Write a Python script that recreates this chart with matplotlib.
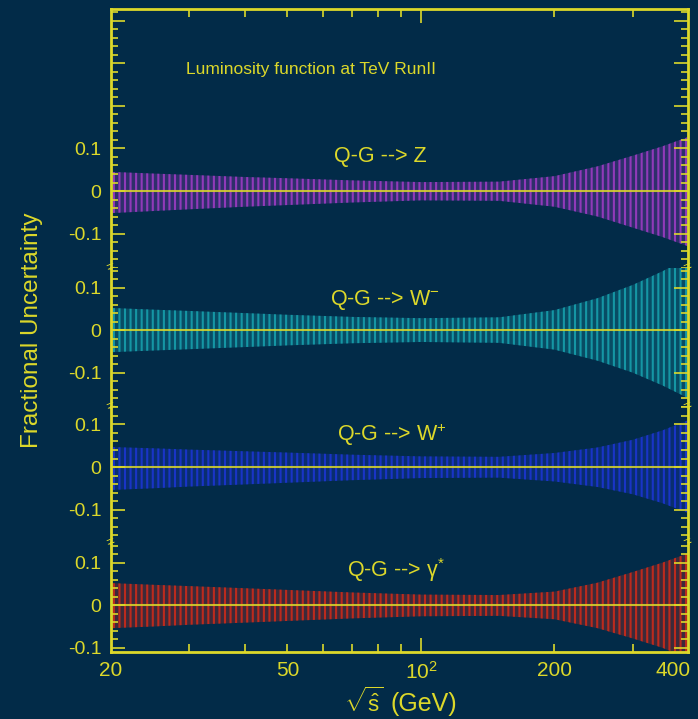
import numpy as np
import matplotlib
matplotlib.use("Agg")
import matplotlib.pyplot as plt
from matplotlib.ticker import FixedLocator, MultipleLocator, NullFormatter, FixedFormatter

# ---- data -------------------------------------------------------------
sqrt_s = [20, 25, 30, 40, 50, 70, 100, 150, 200, 250, 300, 350, 400]

z_up = [0.045, 0.041, 0.038, 0.033, 0.030, 0.025, 0.021, 0.022, 0.035, 0.058, 0.083, 0.105, 0.127]
z_lo = [-0.052, -0.047, -0.043, -0.037, -0.033, -0.027, -0.022, -0.023, -0.037, -0.060, -0.086, -0.108, -0.130]

wm_up = [0.052, 0.048, 0.045, 0.040, 0.036, 0.031, 0.028, 0.030, 0.047, 0.075, 0.106, 0.138, 0.170]
wm_lo = [-0.052, -0.048, -0.045, -0.040, -0.036, -0.031, -0.028, -0.030, -0.046, -0.072, -0.100, -0.130, -0.160]

wp_up = [0.047, 0.044, 0.041, 0.037, 0.034, 0.029, 0.025, 0.024, 0.033, 0.046, 0.064, 0.086, 0.110]
wp_lo = [-0.054, -0.050, -0.046, -0.041, -0.037, -0.031, -0.026, -0.025, -0.034, -0.047, -0.064, -0.085, -0.108]

ga_up = [0.052, 0.048, 0.045, 0.040, 0.036, 0.030, 0.025, 0.024, 0.032, 0.053, 0.078, 0.100, 0.122]
ga_lo = [-0.054, -0.050, -0.046, -0.041, -0.037, -0.031, -0.026, -0.025, -0.033, -0.054, -0.078, -0.100, -0.125]

labels = ["Q-G --> Z", "Q-G --> W$^{-}$", "Q-G --> W$^{+}$", "Q-G --> $\\gamma^{*}$"]
title = "Luminosity function at TeV RunII"
xtick_vals = [20, 50, 100, 200, 400]
xtick_labels = ["20", "50", "10$^{2}$", "200", "400"]
ytick_vals = [-0.1, 0, 0.1]
ytick_labels = ["-0.1", "0", "0.1"]

# ---- style ------------------------------------------------------------
BG = "#022b48"
YEL = "#dcd82a"
colors = ["#a23cc8", "#18a4b0", "#1c36d6", "#d42a18"]
plt.rcParams['font.family'] = ['Liberation Sans', 'DejaVu Sans']
plt.rcParams['mathtext.fontset'] = 'custom'
plt.rcParams['mathtext.rm'] = 'Liberation Sans'
plt.rcParams['mathtext.it'] = 'Liberation Sans:italic'
plt.rcParams['mathtext.default'] = 'regular'
plt.rcParams['hatch.linewidth'] = 1.5

ylims = [(-0.181, 0.428), (-0.181, 0.146), (-0.179, 0.141), (-0.11, 0.146)]
heights = [b - a for a, b in ylims]

fig = plt.figure(figsize=(6.98, 7.19), dpi=100, facecolor=BG)
gs = fig.add_gridspec(4, 1, height_ratios=heights, hspace=0,
                      left=111/698, right=688/698, bottom=1-652/719, top=1-9/719)
axes = [fig.add_subplot(gs[i]) for i in range(4)]

bands = [(z_lo, z_up), (wm_lo, wm_up), (wp_lo, wp_up), (ga_lo, ga_up)]
label_y = [0.08, 0.07, 0.075, 0.082]
label_x = [81, 83, 86, 88]

for i, ax in enumerate(axes):
    ax.set_facecolor(BG)
    ax.set_xscale('log')
    ax.set_xlim(20, 400)
    ax.set_ylim(*ylims[i])
    lo, up = bands[i]
    ax.fill_between(sqrt_s, lo, up, facecolor=colors[i], alpha=0.28, linewidth=0)
    ax.fill_between(sqrt_s, lo, up, facecolor='none', edgecolor=colors[i],
                    hatch='|||', linewidth=0, alpha=0.85)
    ax.axhline(0, color=YEL, lw=1.5, zorder=5, alpha=0.85)
    ax.text(label_x[i], label_y[i], labels[i], color=YEL, fontsize=15.5,
            ha='center', va='center')
    for s in ax.spines.values():
        s.set_color(YEL)
        s.set_linewidth(2)
    if i > 0:
        ax.spines['top'].set_visible(False)
    if i < 3:
        ax.spines['bottom'].set_visible(False)
    ax.yaxis.set_major_locator(FixedLocator(ytick_vals + ([0.2, 0.3, 0.4] if i == 0 else [])))
    ax.yaxis.set_major_formatter(FixedFormatter(ytick_labels + (["", "", ""] if i == 0 else [])))
    ax.yaxis.set_minor_locator(MultipleLocator(0.02))
    ax.tick_params(axis='y', which='both', direction='in', left=True, right=True,
                   colors=YEL, labelcolor=YEL, labelsize=14, pad=7)
    ax.tick_params(axis='y', which='major', length=10, width=1.2)
    ax.tick_params(axis='y', which='minor', length=5, width=1.2)
    ax.tick_params(axis='x', which='both', direction='in', colors=YEL,
                   top=(i == 0), bottom=(i == 3), labelbottom=(i == 3), width=1.2)
    ax.tick_params(axis='x', which='major', length=10)
    ax.tick_params(axis='x', which='minor', length=6)
    ax.xaxis.set_major_locator(FixedLocator([100]))
    ax.xaxis.set_minor_locator(FixedLocator([30, 40, 50, 60, 70, 80, 90, 200, 300]))
    ax.xaxis.set_minor_formatter(NullFormatter())
    ax.xaxis.set_major_formatter(NullFormatter())
    # panel break marks
    if i < 3:
        for xx in (0.0, 1.0):
            ax.text(xx, 0.0, "=", transform=ax.transAxes, color=YEL, fontsize=10,
                    ha='center', va='center', rotation=20, clip_on=False, zorder=10)

# x tick labels on the bottom panel
bax = axes[3]
for v, l in zip(xtick_vals, xtick_labels):
    ha = 'center' if v < 400 else 'right'
    xo = v if v < 400 else v * 1.015
    bax.text(xo, -0.13, l, color=YEL, fontsize=15, ha=ha, va='top',
             transform=bax.transData, clip_on=False)

axes[0].text(56.5, 0.285, title, color=YEL, fontsize=12.5, ha='center', va='center')

fig.text(32/698, 1-330/719, "Fractional Uncertainty", color=YEL, fontsize=17.5,
         rotation=90, ha='center', va='center')
fig.text(344/698, 1-702/719, "$\\sqrt{\\hat{s}}$", color=YEL, fontsize=16,
         ha='left', va='center')
fig.text(390/698, 1-704/719, "(GeV)", color=YEL, fontsize=18, ha='left', va='center')

fig.savefig("out.png", dpi=100, facecolor=BG)
